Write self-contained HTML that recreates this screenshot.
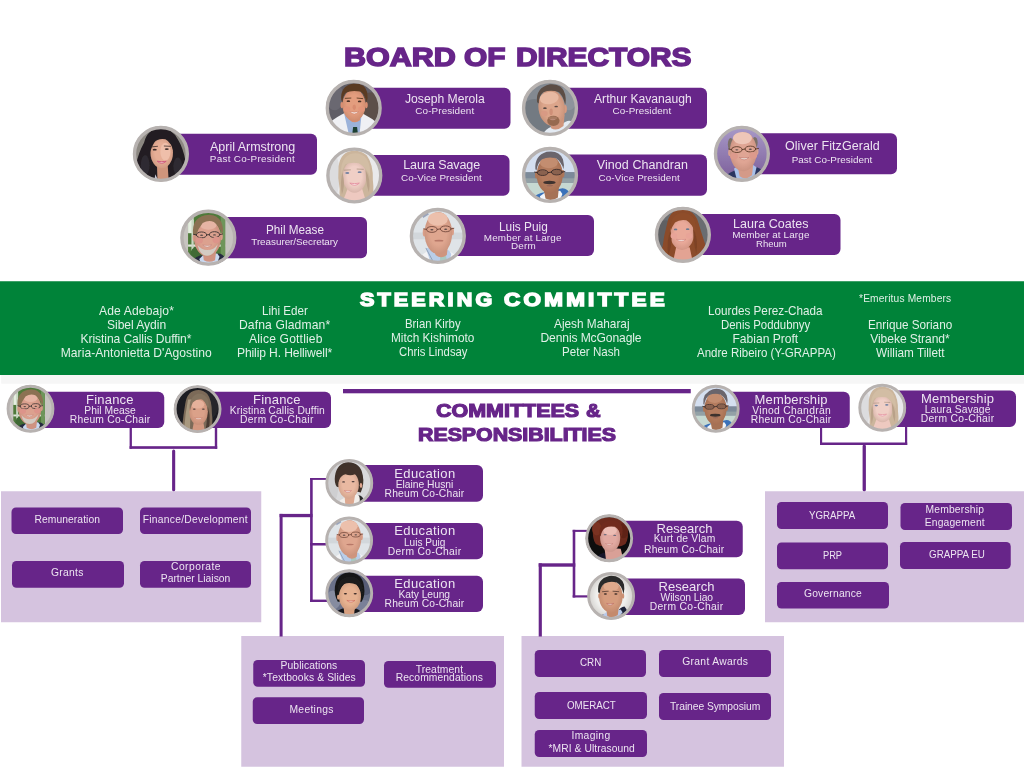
<!DOCTYPE html>
<html lang="en">
<head>
<meta charset="utf-8">
<title>GRAPPA Organizational Chart</title>
<style>
html,body{margin:0;padding:0;background:#fff;}
body{width:1024px;height:768px;position:relative;overflow:hidden;font-family:"Liberation Sans",sans-serif;}
.chart{position:absolute;left:0;top:0;width:1024px;height:768px;overflow:hidden;background:#fff;will-change:transform;}
.chart *{position:absolute;margin:0;padding:0;box-sizing:border-box;}
.shapes{left:0;top:0;}
.t{white-space:pre;line-height:1;font-weight:400;color:rgba(255,255,255,.88);transform-origin:0 0;}
.h{left:0;top:0;font-weight:700;font-size:0;}
.h span{white-space:pre;line-height:1;transform-origin:0 0;display:block;will-change:transform;}
.av{overflow:visible;}
</style>
</head>
<body>
<div class="chart">
<svg width="0" height="0" style="left:0;top:0"><filter id="soft" x="-10%" y="-10%" width="120%" height="120%"><feGaussianBlur stdDeviation="1.1"/></filter><radialGradient id="shade" cx="0.5" cy="0.48" r="0.6"><stop offset="0.5" stop-color="#5a2a18" stop-opacity="0"/><stop offset="1" stop-color="#5a2a18" stop-opacity="0.2"/></radialGradient><clipPath id="avclip"><circle cx="50" cy="50" r="49"/></clipPath></svg>
<svg class="shapes" width="1024" height="768" viewBox="0 0 1024 768" aria-hidden="true">
<rect x="0" y="281.25" width="1024" height="93.75" fill="#008339"/>
<rect x="1.2" y="375" width="1022.8" height="8.7" fill="#f6f6f6"/>
<rect x="1" y="491.25" width="260.25" height="131" fill="#d5c3df"/>
<rect x="765" y="491.25" width="259" height="131" fill="#d5c3df"/>
<rect x="241.25" y="636" width="262.75" height="130.75" fill="#d5c3df"/>
<rect x="521.5" y="636" width="262.5" height="130.75" fill="#d5c3df"/>
<rect x="129.6" y="427" width="2.3" height="21.8" fill="#672589"/>
<rect x="214.8" y="427" width="2.4" height="21.8" fill="#672589"/>
<rect x="129.6" y="446.2" width="87.6" height="2.65" fill="#672589"/>
<rect x="172.1" y="449.4" width="3.1" height="41.8" rx="1.5" fill="#672589"/>
<rect x="820" y="427" width="2.15" height="18" fill="#672589"/>
<rect x="905" y="426" width="2.2" height="19" fill="#672589"/>
<rect x="820" y="442.5" width="87.2" height="2.5" fill="#672589"/>
<rect x="862.6" y="444.6" width="3.3" height="46.6" rx="1.5" fill="#672589"/>
<rect x="310.1" y="478" width="2.6" height="124" fill="#672589"/>
<rect x="310.1" y="478" width="17.9" height="1.9" fill="#672589"/>
<rect x="310.1" y="543" width="17.9" height="2.5" fill="#672589"/>
<rect x="310.1" y="599.6" width="17.9" height="2.4" fill="#672589"/>
<rect x="279.6" y="513.9" width="32.9" height="3.3" fill="#672589"/>
<rect x="279.6" y="513.9" width="3" height="122.6" fill="#672589"/>
<rect x="572.7" y="529.85" width="2.6" height="67.65" fill="#672589"/>
<rect x="572.7" y="529.85" width="15.3" height="2.05" fill="#672589"/>
<rect x="572.7" y="595.3" width="17.3" height="2.2" fill="#672589"/>
<rect x="538.7" y="563.3" width="36.6" height="3.4" fill="#672589"/>
<rect x="538.7" y="563.3" width="3.15" height="73.2" fill="#672589"/>
<rect x="343" y="389" width="347.75" height="4.3" fill="#672589"/>
<path d="M353.7 87.75H504.5A6.0 6.0 0 0 1 510.5 93.75V122.75A6.0 6.0 0 0 1 504.5 128.75H353.7Z" fill="#672589"/>
<path d="M550 87.75H701A6.0 6.0 0 0 1 707 93.75V122.75A6.0 6.0 0 0 1 701 128.75H550Z" fill="#672589"/>
<path d="M160.9 133.75H311A6.0 6.0 0 0 1 317 139.75V168.75A6.0 6.0 0 0 1 311 174.75H160.9Z" fill="#672589"/>
<path d="M741.9 133.25H891A6.0 6.0 0 0 1 897 139.25V168.25A6.0 6.0 0 0 1 891 174.25H741.9Z" fill="#672589"/>
<path d="M354.3 155H503.5A6.0 6.0 0 0 1 509.5 161V189.75A6.0 6.0 0 0 1 503.5 195.75H354.3Z" fill="#672589"/>
<path d="M550 154.5H701A6.0 6.0 0 0 1 707 160.5V189.75A6.0 6.0 0 0 1 701 195.75H550Z" fill="#672589"/>
<path d="M208.3 217H361A6.0 6.0 0 0 1 367 223V252.25A6.0 6.0 0 0 1 361 258.25H208.3Z" fill="#672589"/>
<path d="M437.8 215H588A6.0 6.0 0 0 1 594 221V250A6.0 6.0 0 0 1 588 256H437.8Z" fill="#672589"/>
<path d="M682.9 214H834.5A6.0 6.0 0 0 1 840.5 220V249A6.0 6.0 0 0 1 834.5 255H682.9Z" fill="#672589"/>
<path d="M30.5 391.75H158.25A6.0 6.0 0 0 1 164.25 397.75V422A6.0 6.0 0 0 1 158.25 428H30.5Z" fill="#672589"/>
<path d="M197.6 391.75H325A6.0 6.0 0 0 1 331 397.75V422A6.0 6.0 0 0 1 325 428H197.6Z" fill="#672589"/>
<path d="M715.75 391.75H843.75A6.0 6.0 0 0 1 849.75 397.75V422A6.0 6.0 0 0 1 843.75 428H715.75Z" fill="#672589"/>
<path d="M882.25 390.5H1010A6.0 6.0 0 0 1 1016 396.5V421A6.0 6.0 0 0 1 1010 427H882.25Z" fill="#672589"/>
<path d="M349.3 465H477A6.0 6.0 0 0 1 483 471V495.75A6.0 6.0 0 0 1 477 501.75H349.3Z" fill="#672589"/>
<path d="M349.1 523H477A6.0 6.0 0 0 1 483 529V553.25A6.0 6.0 0 0 1 477 559.25H349.1Z" fill="#672589"/>
<path d="M349.25 575.75H477A6.0 6.0 0 0 1 483 581.75V606A6.0 6.0 0 0 1 477 612H349.25Z" fill="#672589"/>
<path d="M609.2 520.75H736.75A6.0 6.0 0 0 1 742.75 526.75V551.25A6.0 6.0 0 0 1 736.75 557.25H609.2Z" fill="#672589"/>
<path d="M611.1 578.5H739A6.0 6.0 0 0 1 745 584.5V609A6.0 6.0 0 0 1 739 615H611.1Z" fill="#672589"/>
<rect x="11.5" y="507.5" width="111.5" height="26.5" rx="4.5" fill="#672589"/>
<rect x="140" y="507.5" width="111" height="26.5" rx="4.5" fill="#672589"/>
<rect x="12" y="561" width="112" height="26.75" rx="4.5" fill="#672589"/>
<rect x="140" y="561" width="111" height="26.75" rx="4.5" fill="#672589"/>
<rect x="253.25" y="660" width="111.75" height="26.75" rx="4.5" fill="#672589"/>
<rect x="252.75" y="697.25" width="111.25" height="26.75" rx="4.5" fill="#672589"/>
<rect x="384" y="661" width="112" height="26.75" rx="4.5" fill="#672589"/>
<rect x="534.75" y="650" width="111.25" height="27" rx="4.5" fill="#672589"/>
<rect x="659" y="650" width="112" height="27" rx="4.5" fill="#672589"/>
<rect x="534.75" y="692" width="112.25" height="27" rx="4.5" fill="#672589"/>
<rect x="659" y="693" width="112" height="27" rx="4.5" fill="#672589"/>
<rect x="534.75" y="730" width="112.25" height="27" rx="4.5" fill="#672589"/>
<rect x="777" y="502" width="111" height="27" rx="4.5" fill="#672589"/>
<rect x="900.5" y="503" width="111.5" height="27" rx="4.5" fill="#672589"/>
<rect x="777" y="542.5" width="111" height="26.75" rx="4.5" fill="#672589"/>
<rect x="900" y="542" width="110.75" height="27" rx="4.5" fill="#672589"/>
<rect x="777" y="582" width="112" height="26.5" rx="4.5" fill="#672589"/>
</svg>
<svg class="av" style="left:324px;top:78px;width:59px;height:59px" viewBox="0 0 59 59" role="img" aria-label="Portrait photo"><g transform="translate(1.6 1.8) scale(0.5620 0.5620)"><g clip-path="url(#avclip)"><g filter="url(#soft)"><rect x="0" y="0" width="100" height="100" fill="#5f5d66"/><ellipse cx="82" cy="62" rx="30" ry="40" fill="#5c4f48"/><ellipse cx="16" cy="30" rx="16" ry="24" fill="#6a6871"/><path d="M4 78 Q22 64 36 58 L66 60 Q82 68 96 80 L96 100 L4 100Z" fill="#eff0f4"/><path d="M33 60 L64 62 L60 100 L42 100Z" fill="#9bb2da"/><path d="M49 84 L56 84 L58 100 L47 100Z" fill="#1f4030"/><path d="M38 55 L63 55 L61 72 Q51 80 41 70Z" fill="#d68d70"/><ellipse cx="29" cy="45" rx="2.5" ry="5.5" fill="#d98e72"/><ellipse cx="72.5" cy="45" rx="2.5" ry="5.5" fill="#d98e72"/><ellipse cx="50.5" cy="45" rx="20.5" ry="28" fill="#e39d7e"/><ellipse cx="50.5" cy="45" rx="20.5" ry="28" fill="url(#shade)"/><path d="M28 36 Q25 12 48 7 Q70 5 74 22 Q76 32 73 40 Q70 26 62 21 Q46 18 36 23 Q31 28 30 40Z" fill="#5a3b24"/><ellipse cx="40.5" cy="38" rx="3.2" ry="1.5" fill="#4a3028"/><ellipse cx="60.5" cy="38.5" rx="3.2" ry="1.5" fill="#4a3028"/><path d="M35 33L45 32.5" stroke="#5a3b24" stroke-width="1.6" fill="none" stroke-linecap="round"/><path d="M56 32.5L66 33.5" stroke="#5a3b24" stroke-width="1.6" fill="none" stroke-linecap="round"/><path d="M43 56.5 Q51 58.6 59 56.5 Q51 64.9 43 56.5Z" fill="#fbf6f2" stroke="#c77a66" stroke-width="0.9" stroke-linejoin="round"/><ellipse cx="38" cy="52" rx="6" ry="5" fill="#e2957a"/><ellipse cx="64" cy="52" rx="6" ry="5" fill="#e2957a"/><ellipse cx="51" cy="49" rx="3" ry="5" fill="#d88c70"/></g></g><circle cx="50" cy="50" r="47" fill="none" stroke="#b7b2b0" stroke-width="6"/></g></svg>
<svg class="av" style="left:520px;top:78px;width:60px;height:59px" viewBox="0 0 60 59" role="img" aria-label="Portrait photo"><g transform="translate(1.9 1.8) scale(0.5620 0.5620)"><g clip-path="url(#avclip)"><g filter="url(#soft)"><rect x="0" y="0" width="100" height="100" fill="#838991"/><ellipse cx="22" cy="70" rx="30" ry="36" fill="#737a82"/><ellipse cx="84" cy="30" rx="14" ry="24" fill="#8e949c"/><path d="M34 100 Q44 86 52 84 L70 80 Q82 70 88 74 L96 100Z" fill="#e4ebf3"/><path d="M50 70 L76 62 L74 82 Q62 92 52 86Z" fill="#cf957b"/><ellipse cx="77" cy="52" rx="3" ry="7" fill="#d79a80"/><g transform="rotate(-8 53 50)"><ellipse cx="53" cy="50" rx="23.5" ry="32.5" fill="#dca58b"/><ellipse cx="53" cy="50" rx="23.5" ry="32.5" fill="url(#shade)"/><ellipse cx="51" cy="32" rx="17" ry="11" fill="#e8b9a2"/></g><path d="M27 40 Q24 14 50 8 Q72 6 77 26 Q79 38 77 44 Q73 28 66 22 Q52 17 38 22 Q30 28 30 42Z" fill="#5c4d45"/><ellipse cx="41" cy="50.5" rx="3.2" ry="1.5" fill="#5a4a44"/><ellipse cx="61" cy="47.5" rx="3.2" ry="1.5" fill="#5a4a44"/><ellipse cx="56" cy="73" rx="11" ry="9" fill="#96694f"/><ellipse cx="55" cy="68" rx="8" ry="3" fill="#a87a62"/><ellipse cx="55" cy="70.5" rx="5" ry="1.4" fill="#b98a78"/><ellipse cx="40" cy="60" rx="6" ry="5" fill="#d89a84"/><ellipse cx="52" cy="57" rx="3" ry="6" fill="#cf9078"/></g></g><circle cx="50" cy="50" r="47" fill="none" stroke="#b7b2b0" stroke-width="6"/></g></svg>
<svg class="av" style="left:131px;top:124px;width:59px;height:59px" viewBox="0 0 59 59" role="img" aria-label="Portrait photo"><g transform="translate(1.8 1.8) scale(0.5620 0.5620)"><g clip-path="url(#avclip)"><g filter="url(#soft)"><rect x="0" y="0" width="100" height="100" fill="#8b8781"/><path d="M50 4 Q26 5 20 30 Q10 48 6 68 Q4 88 20 100 L86 100 Q98 84 94 64 Q90 40 80 24 Q70 5 50 4Z" fill="#211d21"/><ellipse cx="22" cy="70" rx="8" ry="18" fill="#2e2a30"/><ellipse cx="80" cy="72" rx="8" ry="16" fill="#2e2a30"/><path d="M43 68 L62 68 L64 100 L44 100Z" fill="#cf957c"/><ellipse cx="51.5" cy="48" rx="20" ry="27.5" fill="#e6ae96"/><ellipse cx="51.5" cy="48" rx="20" ry="27.5" fill="url(#shade)"/><ellipse cx="58" cy="46" rx="9" ry="16" fill="#efbfaa"/><path d="M31 46 Q28 20 46 14 Q62 10 72 24 Q76 36 73 50 Q70 30 58 24 Q44 22 38 30 Q33 38 31 46Z" fill="#221e22"/><ellipse cx="39" cy="42.5" rx="3.6" ry="1.6" fill="#3a2a28"/><ellipse cx="60.5" cy="41.5" rx="3.6" ry="1.6" fill="#3a2a28"/><path d="M33 37.5L44 36.5" stroke="#3a2a28" stroke-width="1.4" fill="none" stroke-linecap="round"/><path d="M56 36L67 36.5" stroke="#3a2a28" stroke-width="1.4" fill="none" stroke-linecap="round"/><path d="M43.5 63 Q51.5 64.82 59.5 63 Q51.5 70.28 43.5 63Z" fill="#f6dada" stroke="#cc5578" stroke-width="1.6" stroke-linejoin="round"/><path d="M40 86 Q44 96 48 100 L38 100Z" fill="#c8c8d8"/></g></g><circle cx="50" cy="50" r="47" fill="none" stroke="#b7b2b0" stroke-width="6"/></g></svg>
<svg class="av" style="left:712px;top:124px;width:59px;height:59px" viewBox="0 0 59 59" role="img" aria-label="Portrait photo"><g transform="translate(1.8 1.7) scale(0.5620 0.5620)"><g clip-path="url(#avclip)"><g filter="url(#soft)"><linearGradient id="fgbga4" x1="0" y1="0" x2="0" y2="1"><stop offset="0" stop-color="#a99bc9"/><stop offset="1" stop-color="#7a5c98"/></linearGradient><rect x="0" y="0" width="100" height="100" fill="url(#fgbga4)"/><path d="M14 100 Q20 86 36 80 L70 74 Q82 72 90 84 L92 100Z" fill="#2b3661"/><path d="M36 76 L44 72 L70 70 L76 74 L70 100 L42 100Z" fill="#a9c1e9"/><path d="M42 70 L70 70 L68 88 Q56 98 46 90Z" fill="#d49a88"/><ellipse cx="28.5" cy="48" rx="3" ry="6" fill="#d9a090"/><ellipse cx="76.5" cy="46" rx="3" ry="6" fill="#d9a090"/><ellipse cx="30" cy="33" rx="5" ry="11" fill="#7b7068"/><ellipse cx="73" cy="30" rx="5" ry="10" fill="#7b7068"/><ellipse cx="52.5" cy="46" rx="24" ry="35" fill="#dfa594"/><ellipse cx="52.5" cy="46" rx="24" ry="35" fill="url(#shade)"/><ellipse cx="51" cy="22" rx="17" ry="11" fill="#eec6b8"/><ellipse cx="41" cy="42.5" rx="9.5" ry="5.2" fill="none" stroke="#5a3a28" stroke-width="1.6"/><ellipse cx="65" cy="41.5" rx="9.5" ry="5.2" fill="none" stroke="#5a3a28" stroke-width="1.6"/><path d="M50.5 42.5L55.5 41.5" stroke="#5a3a28" stroke-width="1.6" fill="none" stroke-linecap="round"/><path d="M31.5 42.5L26.5 41.5" stroke="#5a3a28" stroke-width="1.6" fill="none" stroke-linecap="round"/><path d="M74.5 41.5L79.5 40.5" stroke="#5a3a28" stroke-width="1.6" fill="none" stroke-linecap="round"/><ellipse cx="41" cy="43" rx="2.8" ry="1.3" fill="#5a4a48"/><ellipse cx="65" cy="42" rx="2.8" ry="1.3" fill="#5a4a48"/><path d="M45.5 56.5 Q54 58.6 62.5 56.5 Q54 64.9 45.5 56.5Z" fill="#f1e9e1" stroke="#b8706a" stroke-width="0.9" stroke-linejoin="round"/><ellipse cx="36" cy="54" rx="7" ry="6" fill="#dd9a8c"/><ellipse cx="70" cy="53" rx="7" ry="6" fill="#dd9a8c"/></g></g><circle cx="50" cy="50" r="47" fill="none" stroke="#b7b2b0" stroke-width="6"/></g></svg>
<svg class="av" style="left:325px;top:146px;width:59px;height:59px" viewBox="0 0 59 59" role="img" aria-label="Portrait photo"><g transform="translate(1.2 1.4) scale(0.5620 0.5620)"><g clip-path="url(#avclip)"><g filter="url(#soft)"><rect x="0" y="0" width="100" height="100" fill="#e9e9eb"/><ellipse cx="12" cy="50" rx="12" ry="40" fill="#dcdcde"/><path d="M50 6 Q26 6 22 34 Q20 54 24 74 Q22 90 30 100 L80 100 Q86 80 83 58 Q84 30 72 14 Q62 6 50 6Z" fill="#cbb59c"/><path d="M38 74 L64 74 L72 100 L28 100Z" fill="#eec9c0"/><ellipse cx="50.5" cy="52" rx="21" ry="28.5" fill="#f0cfc6"/><ellipse cx="50.5" cy="52" rx="21" ry="28.5" fill="url(#shade)"/><path d="M27 48 Q24 22 42 12 Q60 6 72 20 Q80 34 78 52 Q72 36 58 28 Q44 26 34 30 Q29 38 27 48Z" fill="#d2bda4"/><path d="M70 40 Q80 56 76 80 Q72 70 71 56Z" fill="#b9a189"/><path d="M29 44 Q24 62 28 84 Q33 70 31 56Z" fill="#b9a189"/><ellipse cx="37.5" cy="45.5" rx="3.6" ry="1.7" fill="#7482a2"/><ellipse cx="59.5" cy="44" rx="3.6" ry="1.7" fill="#7482a2"/><path d="M32 40.5L43 40" stroke="#a08a74" stroke-width="1.2" fill="none" stroke-linecap="round"/><path d="M55 38.5L66 39" stroke="#a08a74" stroke-width="1.2" fill="none" stroke-linecap="round"/><path d="M42.0 63.5 Q50.5 65.46 59.0 63.5 Q50.5 71.34 42.0 63.5Z" fill="#fbeeee" stroke="#e38d9c" stroke-width="1.5" stroke-linejoin="round"/></g></g><circle cx="50" cy="50" r="47" fill="none" stroke="#b7b2b0" stroke-width="6"/></g></svg>
<svg class="av" style="left:520px;top:145px;width:60px;height:59px" viewBox="0 0 60 59" role="img" aria-label="Portrait photo"><g transform="translate(1.9 1.8) scale(0.5620 0.5620)"><g clip-path="url(#avclip)"><g filter="url(#soft)"><rect x="0" y="0" width="100" height="46" fill="#d4dff0"/><rect x="0" y="45" width="100" height="20" fill="#7c8a99"/><rect x="0" y="64" width="100" height="36" fill="#c6d9d2"/><rect x="0" y="56" width="100" height="8" fill="#93a1a6"/><path d="M14 100 Q20 86 34 82 L70 74 Q80 72 88 86 L92 100Z" fill="#3b71b9"/><path d="M32 88 L40 82 L68 78 L72 84 L66 100 L36 100Z" fill="#f3f5f8"/><path d="M38 72 L66 70 L64 90 Q52 98 42 92Z" fill="#a67254"/><ellipse cx="26" cy="50" rx="2.8" ry="6.5" fill="#ae785a"/><ellipse cx="73" cy="48" rx="2.8" ry="6.5" fill="#ae785a"/><ellipse cx="49.5" cy="50" rx="23" ry="33" fill="#b47c5e"/><ellipse cx="49.5" cy="50" rx="23" ry="33" fill="url(#shade)"/><ellipse cx="48" cy="28" rx="16" ry="10" fill="#c38d70"/><path d="M24 40 Q22 16 44 9 Q66 5 73 22 Q76 32 74 40 Q70 26 60 20 Q46 17 36 22 Q28 28 26 42Z" fill="#6a656c"/><ellipse cx="37" cy="46" rx="8.5" ry="4" fill="#8a6250"/><ellipse cx="62" cy="45" rx="8.5" ry="4" fill="#8a6250"/><ellipse cx="37" cy="46" rx="9.5" ry="5" fill="none" stroke="#2e2426" stroke-width="1.5"/><ellipse cx="62" cy="45" rx="9.5" ry="5" fill="none" stroke="#2e2426" stroke-width="1.5"/><path d="M46.5 46L52.5 45" stroke="#2e2426" stroke-width="1.5" fill="none" stroke-linecap="round"/><path d="M27.5 46L22.5 45" stroke="#2e2426" stroke-width="1.5" fill="none" stroke-linecap="round"/><path d="M71.5 45L76.5 44" stroke="#2e2426" stroke-width="1.5" fill="none" stroke-linecap="round"/><ellipse cx="49" cy="63.5" rx="11" ry="3" fill="#3e302e"/><ellipse cx="49.5" cy="69" rx="6" ry="1.5" fill="#9a6a58"/></g></g><circle cx="50" cy="50" r="47" fill="none" stroke="#b7b2b0" stroke-width="6"/></g></svg>
<svg class="av" style="left:179px;top:208px;width:59px;height:59px" viewBox="0 0 59 59" role="img" aria-label="Portrait photo"><g transform="translate(1.2 1.6) scale(0.5620 0.5620)"><g clip-path="url(#avclip)"><g filter="url(#soft)"><rect x="0" y="0" width="100" height="100" fill="#c7c4c0"/><rect x="14" y="0" width="66" height="100" fill="#4f7a3b"/><rect x="14" y="18" width="10" height="24" fill="#e6eee0"/><rect x="14" y="62" width="66" height="4" fill="#dfe6da"/><rect x="20" y="0" width="4" height="100" fill="#c9d6c2"/><rect x="72" y="0" width="8" height="100" fill="#6e955a"/><ellipse cx="30" cy="80" rx="12" ry="14" fill="#3f6a34"/><path d="M16 100 Q22 86 34 82 L68 78 Q78 78 82 92 L82 100Z" fill="#262b41"/><path d="M34 88 L42 80 L66 78 L70 84 L64 100 L38 100Z" fill="#c9d9f1"/><path d="M40 74 L64 74 L62 90 Q52 96 42 90Z" fill="#cf9382"/><ellipse cx="25" cy="50" rx="2.8" ry="6.5" fill="#d79a88"/><ellipse cx="73" cy="48" rx="2.8" ry="6.5" fill="#d79a88"/><ellipse cx="48.5" cy="50" rx="24" ry="33.5" fill="#dca18f"/><ellipse cx="48.5" cy="50" rx="24" ry="33.5" fill="url(#shade)"/><ellipse cx="50" cy="27" rx="15" ry="9" fill="#e6b4a4"/><path d="M31 63 Q35 82 48 82 Q61 82 67 61 Q60 72 48 72 Q38 72 31 63Z" fill="#d3cbc3"/><path d="M23 44 Q20 16 44 10 Q64 6 73 22 Q78 34 75 44 Q70 30 60 22 Q50 18 40 24 Q32 34 28 46Z" fill="#8b7152"/><ellipse cx="38" cy="45" rx="9.2" ry="5.2" fill="none" stroke="#3a3030" stroke-width="1.6"/><ellipse cx="61" cy="44.5" rx="9.2" ry="5.2" fill="none" stroke="#3a3030" stroke-width="1.6"/><path d="M47.2 45L51.8 44.5" stroke="#3a3030" stroke-width="1.6" fill="none" stroke-linecap="round"/><path d="M28.8 45L23.8 44" stroke="#3a3030" stroke-width="1.6" fill="none" stroke-linecap="round"/><path d="M70.2 44.5L75.2 43.5" stroke="#3a3030" stroke-width="1.6" fill="none" stroke-linecap="round"/><ellipse cx="38" cy="45.5" rx="2.8" ry="1.3" fill="#5a4a48"/><ellipse cx="61" cy="45" rx="2.8" ry="1.3" fill="#5a4a48"/><path d="M40 63 Q48 64.82 56 63 Q48 70.28 40 63Z" fill="#f4ece6" stroke="#c0807a" stroke-width="0.9" stroke-linejoin="round"/><ellipse cx="34" cy="55" rx="6.5" ry="5.5" fill="#dc948a"/><ellipse cx="64" cy="54" rx="6.5" ry="5.5" fill="#dc948a"/></g></g><circle cx="50" cy="50" r="47" fill="none" stroke="#b7b2b0" stroke-width="6"/></g></svg>
<svg class="av" style="left:408px;top:206px;width:59px;height:59px" viewBox="0 0 59 59" role="img" aria-label="Portrait photo"><g transform="translate(1.7 1.8) scale(0.5620 0.5620)"><g clip-path="url(#avclip)"><g filter="url(#soft)"><rect x="0" y="0" width="100" height="100" fill="#dfe4e8"/><rect x="0" y="44" width="100" height="12" fill="#d2d7db"/><path d="M22 14 L32 8 L34 12 L24 18Z" fill="#9aa4bc"/><path d="M10 100 Q18 84 30 78 L72 78 Q86 84 92 100Z" fill="#f3f3f5"/><path d="M29 72 L44 70 L70 76 L74 82 L70 100 L38 100Z" fill="#b9cde9"/><path d="M54 86 L64 84 L68 100 L54 100Z" fill="#a9c9c1"/><path d="M29 72L44 100" stroke="#7a8aa0" stroke-width="1.2" fill="none" stroke-linecap="round"/><path d="M42 68 L68 68 L66 84 Q56 92 46 84Z" fill="#cf957e"/><ellipse cx="26" cy="44" rx="2.8" ry="7" fill="#d99e88"/><ellipse cx="76" cy="42" rx="2.8" ry="7" fill="#d99e88"/><ellipse cx="51" cy="45" rx="24.5" ry="37.5" fill="#dfa68f"/><ellipse cx="51" cy="45" rx="24.5" ry="37.5" fill="url(#shade)"/><ellipse cx="50" cy="20" rx="18" ry="12" fill="#ecc0ac"/><ellipse cx="39.5" cy="38.5" rx="9.5" ry="5.2" fill="none" stroke="#6a4034" stroke-width="1.5"/><ellipse cx="64" cy="37.5" rx="9.5" ry="5.2" fill="none" stroke="#6a4034" stroke-width="1.5"/><path d="M49.0 38.5L54.5 37.5" stroke="#6a4034" stroke-width="1.5" fill="none" stroke-linecap="round"/><path d="M30.0 38.5L25.0 37.5" stroke="#6a4034" stroke-width="1.5" fill="none" stroke-linecap="round"/><path d="M73.5 37.5L78.5 36.5" stroke="#6a4034" stroke-width="1.5" fill="none" stroke-linecap="round"/><ellipse cx="39.5" cy="39" rx="2.8" ry="1.3" fill="#5a4a48"/><ellipse cx="64" cy="38" rx="2.8" ry="1.3" fill="#5a4a48"/><ellipse cx="52" cy="58.5" rx="8" ry="1.6" fill="#b87868"/></g></g><circle cx="50" cy="50" r="47" fill="none" stroke="#b7b2b0" stroke-width="6"/></g></svg>
<svg class="av" style="left:653px;top:205px;width:59px;height:59px" viewBox="0 0 59 59" role="img" aria-label="Portrait photo"><g transform="translate(1.8 1.7) scale(0.5620 0.5620)"><g clip-path="url(#avclip)"><g filter="url(#soft)"><rect x="0" y="0" width="100" height="100" fill="#6b6d71"/><ellipse cx="20" cy="60" rx="20" ry="36" fill="#5e6064"/><path d="M48 4 Q26 6 22 30 Q16 52 14 70 Q8 86 22 100 L84 100 Q96 86 90 68 Q84 50 78 30 Q72 6 48 4Z" fill="#8b4b29"/><path d="M38 72 L62 72 L68 100 L32 100Z" fill="#e3a393"/><ellipse cx="48.5" cy="47.5" rx="21" ry="29.5" fill="#e9a999"/><ellipse cx="48.5" cy="47.5" rx="21" ry="29.5" fill="url(#shade)"/><path d="M28 44 Q26 18 44 12 Q60 8 70 22 Q74 34 72 50 Q68 30 56 24 Q44 22 36 28 Q30 36 28 44Z" fill="#8f4e2b"/><path d="M68 38 Q78 56 74 84 Q70 70 69 54Z" fill="#7d4325"/><path d="M28 42 Q20 62 24 88 Q30 72 30 56Z" fill="#7d4325"/><ellipse cx="37" cy="40.5" rx="3.2" ry="1.5" fill="#6a7a92"/><ellipse cx="58.5" cy="40" rx="3.2" ry="1.5" fill="#6a7a92"/><path d="M38.5 58 Q47 59.96 55.5 58 Q47 65.84 38.5 58Z" fill="#f6ece6" stroke="#cc7a74" stroke-width="0.9" stroke-linejoin="round"/><ellipse cx="34" cy="52" rx="6" ry="5" fill="#e8a498"/><ellipse cx="61" cy="52" rx="6" ry="5" fill="#e8a498"/></g></g><circle cx="50" cy="50" r="47" fill="none" stroke="#b7b2b0" stroke-width="6"/></g></svg>
<svg class="av" style="left:5px;top:383px;width:51px;height:51px" viewBox="0 0 51 51" role="img" aria-label="Portrait photo"><g transform="translate(1.6 1.85) scale(0.4780 0.4780)"><g clip-path="url(#avclip)"><g filter="url(#soft)"><rect x="0" y="0" width="100" height="100" fill="#c7c4c0"/><rect x="14" y="0" width="66" height="100" fill="#4f7a3b"/><rect x="14" y="18" width="10" height="24" fill="#e6eee0"/><rect x="14" y="62" width="66" height="4" fill="#dfe6da"/><rect x="20" y="0" width="4" height="100" fill="#c9d6c2"/><rect x="72" y="0" width="8" height="100" fill="#6e955a"/><ellipse cx="30" cy="80" rx="12" ry="14" fill="#3f6a34"/><path d="M16 100 Q22 86 34 82 L68 78 Q78 78 82 92 L82 100Z" fill="#262b41"/><path d="M34 88 L42 80 L66 78 L70 84 L64 100 L38 100Z" fill="#c9d9f1"/><path d="M40 74 L64 74 L62 90 Q52 96 42 90Z" fill="#cf9382"/><ellipse cx="25" cy="50" rx="2.8" ry="6.5" fill="#d79a88"/><ellipse cx="73" cy="48" rx="2.8" ry="6.5" fill="#d79a88"/><ellipse cx="48.5" cy="50" rx="24" ry="33.5" fill="#dca18f"/><ellipse cx="48.5" cy="50" rx="24" ry="33.5" fill="url(#shade)"/><ellipse cx="50" cy="27" rx="15" ry="9" fill="#e6b4a4"/><path d="M31 63 Q35 82 48 82 Q61 82 67 61 Q60 72 48 72 Q38 72 31 63Z" fill="#d3cbc3"/><path d="M23 44 Q20 16 44 10 Q64 6 73 22 Q78 34 75 44 Q70 30 60 22 Q50 18 40 24 Q32 34 28 46Z" fill="#8b7152"/><ellipse cx="38" cy="45" rx="9.2" ry="5.2" fill="none" stroke="#3a3030" stroke-width="1.6"/><ellipse cx="61" cy="44.5" rx="9.2" ry="5.2" fill="none" stroke="#3a3030" stroke-width="1.6"/><path d="M47.2 45L51.8 44.5" stroke="#3a3030" stroke-width="1.6" fill="none" stroke-linecap="round"/><path d="M28.8 45L23.8 44" stroke="#3a3030" stroke-width="1.6" fill="none" stroke-linecap="round"/><path d="M70.2 44.5L75.2 43.5" stroke="#3a3030" stroke-width="1.6" fill="none" stroke-linecap="round"/><ellipse cx="38" cy="45.5" rx="2.8" ry="1.3" fill="#5a4a48"/><ellipse cx="61" cy="45" rx="2.8" ry="1.3" fill="#5a4a48"/><path d="M40 63 Q48 64.82 56 63 Q48 70.28 40 63Z" fill="#f4ece6" stroke="#c0807a" stroke-width="0.9" stroke-linejoin="round"/><ellipse cx="34" cy="55" rx="6.5" ry="5.5" fill="#dc948a"/><ellipse cx="64" cy="54" rx="6.5" ry="5.5" fill="#dc948a"/></g></g><circle cx="50" cy="50" r="47" fill="none" stroke="#b7b2b0" stroke-width="6"/></g></svg>
<svg class="av" style="left:172px;top:384px;width:51px;height:50px" viewBox="0 0 51 50" role="img" aria-label="Portrait photo"><g transform="translate(1.7 1.2) scale(0.4780 0.4780)"><g clip-path="url(#avclip)"><g filter="url(#soft)"><rect x="0" y="0" width="100" height="100" fill="#1d1d21"/><ellipse cx="74" cy="40" rx="20" ry="30" fill="#26272b"/><path d="M52 10 Q28 10 24 40 Q20 64 18 84 Q20 96 30 100 L74 100 Q84 84 80 60 Q80 30 70 18 Q62 10 52 10Z" fill="#7b6b59"/><path d="M30 30 Q24 60 22 90 L34 98 Q34 60 40 30Z" fill="#a8987f"/><path d="M70 40 Q78 60 74 90 L66 96 Q72 70 68 50Z" fill="#4a3a30"/><path d="M42 78 L62 78 L66 100 L38 100Z" fill="#d39880"/><ellipse cx="52" cy="55" rx="19.5" ry="28" fill="#dba189"/><ellipse cx="52" cy="55" rx="19.5" ry="28" fill="url(#shade)"/><ellipse cx="50" cy="40" rx="14" ry="9" fill="#e6b19b"/><path d="M34 54 Q30 26 50 18 Q64 16 72 30 Q75 42 72 56 Q70 38 60 30 Q48 28 40 36 Q36 44 34 54Z" fill="#84735f"/><ellipse cx="43" cy="50" rx="3.2" ry="1.5" fill="#4a3a38"/><ellipse cx="62" cy="50" rx="3.2" ry="1.5" fill="#4a3a38"/><path d="M44 68 Q52 69.96 60 68 Q52 75.84 44 68Z" fill="#f6eee8" stroke="#c87868" stroke-width="1.1" stroke-linejoin="round"/></g></g><circle cx="50" cy="50" r="47" fill="none" stroke="#b7b2b0" stroke-width="6"/></g></svg>
<svg class="av" style="left:690px;top:383px;width:51px;height:51px" viewBox="0 0 51 51" role="img" aria-label="Portrait photo"><g transform="translate(1.85 1.85) scale(0.4780 0.4780)"><g clip-path="url(#avclip)"><g filter="url(#soft)"><rect x="0" y="0" width="100" height="46" fill="#d4dff0"/><rect x="0" y="45" width="100" height="20" fill="#7c8a99"/><rect x="0" y="64" width="100" height="36" fill="#c6d9d2"/><rect x="0" y="56" width="100" height="8" fill="#93a1a6"/><path d="M14 100 Q20 86 34 82 L70 74 Q80 72 88 86 L92 100Z" fill="#3b71b9"/><path d="M32 88 L40 82 L68 78 L72 84 L66 100 L36 100Z" fill="#f3f5f8"/><path d="M38 72 L66 70 L64 90 Q52 98 42 92Z" fill="#a67254"/><ellipse cx="26" cy="50" rx="2.8" ry="6.5" fill="#ae785a"/><ellipse cx="73" cy="48" rx="2.8" ry="6.5" fill="#ae785a"/><ellipse cx="49.5" cy="50" rx="23" ry="33" fill="#b47c5e"/><ellipse cx="49.5" cy="50" rx="23" ry="33" fill="url(#shade)"/><ellipse cx="48" cy="28" rx="16" ry="10" fill="#c38d70"/><path d="M24 40 Q22 16 44 9 Q66 5 73 22 Q76 32 74 40 Q70 26 60 20 Q46 17 36 22 Q28 28 26 42Z" fill="#6a656c"/><ellipse cx="37" cy="46" rx="8.5" ry="4" fill="#8a6250"/><ellipse cx="62" cy="45" rx="8.5" ry="4" fill="#8a6250"/><ellipse cx="37" cy="46" rx="9.5" ry="5" fill="none" stroke="#2e2426" stroke-width="1.5"/><ellipse cx="62" cy="45" rx="9.5" ry="5" fill="none" stroke="#2e2426" stroke-width="1.5"/><path d="M46.5 46L52.5 45" stroke="#2e2426" stroke-width="1.5" fill="none" stroke-linecap="round"/><path d="M27.5 46L22.5 45" stroke="#2e2426" stroke-width="1.5" fill="none" stroke-linecap="round"/><path d="M71.5 45L76.5 44" stroke="#2e2426" stroke-width="1.5" fill="none" stroke-linecap="round"/><ellipse cx="49" cy="63.5" rx="11" ry="3" fill="#3e302e"/><ellipse cx="49.5" cy="69" rx="6" ry="1.5" fill="#9a6a58"/></g></g><circle cx="50" cy="50" r="47" fill="none" stroke="#b7b2b0" stroke-width="6"/></g></svg>
<svg class="av" style="left:857px;top:382px;width:51px;height:51px" viewBox="0 0 51 51" role="img" aria-label="Portrait photo"><g transform="translate(1.35 1.85) scale(0.4780 0.4780)"><g clip-path="url(#avclip)"><g filter="url(#soft)"><rect x="0" y="0" width="100" height="100" fill="#e9e9eb"/><ellipse cx="12" cy="50" rx="12" ry="40" fill="#dcdcde"/><path d="M50 6 Q26 6 22 34 Q20 54 24 74 Q22 90 30 100 L80 100 Q86 80 83 58 Q84 30 72 14 Q62 6 50 6Z" fill="#cbb59c"/><path d="M38 74 L64 74 L72 100 L28 100Z" fill="#eec9c0"/><ellipse cx="50.5" cy="52" rx="21" ry="28.5" fill="#f0cfc6"/><ellipse cx="50.5" cy="52" rx="21" ry="28.5" fill="url(#shade)"/><path d="M27 48 Q24 22 42 12 Q60 6 72 20 Q80 34 78 52 Q72 36 58 28 Q44 26 34 30 Q29 38 27 48Z" fill="#d2bda4"/><path d="M70 40 Q80 56 76 80 Q72 70 71 56Z" fill="#b9a189"/><path d="M29 44 Q24 62 28 84 Q33 70 31 56Z" fill="#b9a189"/><ellipse cx="37.5" cy="45.5" rx="3.6" ry="1.7" fill="#7482a2"/><ellipse cx="59.5" cy="44" rx="3.6" ry="1.7" fill="#7482a2"/><path d="M32 40.5L43 40" stroke="#a08a74" stroke-width="1.2" fill="none" stroke-linecap="round"/><path d="M55 38.5L66 39" stroke="#a08a74" stroke-width="1.2" fill="none" stroke-linecap="round"/><path d="M42.0 63.5 Q50.5 65.46 59.0 63.5 Q50.5 71.34 42.0 63.5Z" fill="#fbeeee" stroke="#e38d9c" stroke-width="1.5" stroke-linejoin="round"/></g></g><circle cx="50" cy="50" r="47" fill="none" stroke="#b7b2b0" stroke-width="6"/></g></svg>
<svg class="av" style="left:324px;top:458px;width:51px;height:50px" viewBox="0 0 51 50" role="img" aria-label="Portrait photo"><g transform="translate(1.4 1) scale(0.4780 0.4780)"><g clip-path="url(#avclip)"><g filter="url(#soft)"><rect x="0" y="0" width="100" height="100" fill="#d9d9db"/><ellipse cx="14" cy="50" rx="14" ry="40" fill="#cfcfd1"/><path d="M22 100 Q28 88 40 84 L70 76 Q78 76 82 90 L84 100Z" fill="#2a2a2c"/><path d="M26 92 Q32 84 42 80 L66 74 Q72 76 72 86 L70 100 L28 100Z" fill="#f2eeea"/><path d="M40 76 L62 76 L58 100 L42 100Z" fill="#dca890"/><path d="M48 7 Q24 8 20 36 Q18 50 24 58 L74 70 Q82 52 78 34 Q74 8 48 7Z" fill="#3f3129"/><ellipse cx="74.5" cy="55" rx="2.6" ry="5.5" fill="#dda48e"/><ellipse cx="48.5" cy="54" rx="21.5" ry="29" fill="#e9b9a1"/><ellipse cx="48.5" cy="54" rx="21.5" ry="29" fill="url(#shade)"/><path d="M25 52 Q20 22 44 14 Q66 8 76 30 Q80 42 76 52 Q72 36 62 32 Q52 36 42 32 Q32 34 28 46Z" fill="#42332b"/><ellipse cx="38" cy="48" rx="3.2" ry="1.4" fill="#4a3a38"/><ellipse cx="58" cy="47.5" rx="3.2" ry="1.4" fill="#4a3a38"/><path d="M39.5 66 Q47 68.1 54.5 66 Q47 74.4 39.5 66Z" fill="#f7f1ee" stroke="#d07a78" stroke-width="1.2" stroke-linejoin="round"/></g></g><circle cx="50" cy="50" r="47" fill="none" stroke="#b7b2b0" stroke-width="6"/></g></svg>
<svg class="av" style="left:324px;top:515px;width:50px;height:51px" viewBox="0 0 50 51" role="img" aria-label="Portrait photo"><g transform="translate(1.2 1.6) scale(0.4780 0.4780)"><g clip-path="url(#avclip)"><g filter="url(#soft)"><rect x="0" y="0" width="100" height="100" fill="#dfe4e8"/><rect x="0" y="44" width="100" height="12" fill="#d2d7db"/><path d="M22 14 L32 8 L34 12 L24 18Z" fill="#9aa4bc"/><path d="M10 100 Q18 84 30 78 L72 78 Q86 84 92 100Z" fill="#f3f3f5"/><path d="M29 72 L44 70 L70 76 L74 82 L70 100 L38 100Z" fill="#b9cde9"/><path d="M54 86 L64 84 L68 100 L54 100Z" fill="#a9c9c1"/><path d="M29 72L44 100" stroke="#7a8aa0" stroke-width="1.2" fill="none" stroke-linecap="round"/><path d="M42 68 L68 68 L66 84 Q56 92 46 84Z" fill="#cf957e"/><ellipse cx="26" cy="44" rx="2.8" ry="7" fill="#d99e88"/><ellipse cx="76" cy="42" rx="2.8" ry="7" fill="#d99e88"/><ellipse cx="51" cy="45" rx="24.5" ry="37.5" fill="#dfa68f"/><ellipse cx="51" cy="45" rx="24.5" ry="37.5" fill="url(#shade)"/><ellipse cx="50" cy="20" rx="18" ry="12" fill="#ecc0ac"/><ellipse cx="39.5" cy="38.5" rx="9.5" ry="5.2" fill="none" stroke="#6a4034" stroke-width="1.5"/><ellipse cx="64" cy="37.5" rx="9.5" ry="5.2" fill="none" stroke="#6a4034" stroke-width="1.5"/><path d="M49.0 38.5L54.5 37.5" stroke="#6a4034" stroke-width="1.5" fill="none" stroke-linecap="round"/><path d="M30.0 38.5L25.0 37.5" stroke="#6a4034" stroke-width="1.5" fill="none" stroke-linecap="round"/><path d="M73.5 37.5L78.5 36.5" stroke="#6a4034" stroke-width="1.5" fill="none" stroke-linecap="round"/><ellipse cx="39.5" cy="39" rx="2.8" ry="1.3" fill="#5a4a48"/><ellipse cx="64" cy="38" rx="2.8" ry="1.3" fill="#5a4a48"/><ellipse cx="52" cy="58.5" rx="8" ry="1.6" fill="#b87868"/></g></g><circle cx="50" cy="50" r="47" fill="none" stroke="#b7b2b0" stroke-width="6"/></g></svg>
<svg class="av" style="left:324px;top:568px;width:51px;height:51px" viewBox="0 0 51 51" role="img" aria-label="Portrait photo"><g transform="translate(1.35 1.35) scale(0.4780 0.4780)"><g clip-path="url(#avclip)"><g filter="url(#soft)"><rect x="0" y="0" width="100" height="100" fill="#6b7189"/><ellipse cx="16" cy="64" rx="16" ry="20" fill="#868ca0"/><ellipse cx="84" cy="30" rx="16" ry="24" fill="#565c74"/><ellipse cx="80" cy="80" rx="20" ry="16" fill="#7a8098"/><path d="M16 100 Q22 86 36 82 L64 82 Q76 86 82 100Z" fill="#19191b"/><path d="M38 76 L62 76 L60 96 Q50 102 40 96Z" fill="#d8a080"/><path d="M50 6 Q24 8 20 36 Q18 54 26 68 L76 68 Q84 54 81 36 Q78 8 50 6Z" fill="#191919"/><ellipse cx="27" cy="58" rx="2.6" ry="5.5" fill="#d8a080"/><ellipse cx="51.5" cy="56.5" rx="23" ry="30" fill="#e6b291"/><ellipse cx="51.5" cy="56.5" rx="23" ry="30" fill="url(#shade)"/><path d="M26 54 Q22 22 46 16 Q70 12 78 34 Q80 46 77 56 Q74 40 66 32 Q52 26 40 30 Q30 38 28 50Z" fill="#1b1b1b"/><ellipse cx="42" cy="51" rx="3.4" ry="1.5" fill="#3a2a28"/><ellipse cx="62.5" cy="51" rx="3.4" ry="1.5" fill="#3a2a28"/><path d="M45.0 65 Q53.5 66.82 62.0 65 Q53.5 72.28 45.0 65Z" fill="#f4e4dc" stroke="#d06a5a" stroke-width="1.4" stroke-linejoin="round"/></g></g><circle cx="50" cy="50" r="47" fill="none" stroke="#b7b2b0" stroke-width="6"/></g></svg>
<svg class="av" style="left:584px;top:513px;width:51px;height:51px" viewBox="0 0 51 51" role="img" aria-label="Portrait photo"><g transform="translate(1.3 1.35) scale(0.4780 0.4780)"><g clip-path="url(#avclip)"><g filter="url(#soft)"><rect x="0" y="0" width="100" height="100" fill="#0d0d0f"/><path d="M18 100 Q24 84 40 80 L50 100Z" fill="#15172a"/><path d="M50 6 Q22 6 16 30 Q14 50 22 62 Q36 70 50 64 Q70 72 84 62 Q92 48 88 30 Q80 6 50 6Z" fill="#6c2a1c"/><ellipse cx="24" cy="30" rx="10" ry="14" fill="#7a3220"/><ellipse cx="80" cy="34" rx="10" ry="16" fill="#5e2418"/><path d="M40 70 L74 72 L78 88 Q66 100 44 100Z" fill="#d9a097"/><ellipse cx="52" cy="48.5" rx="21" ry="30" fill="#e1a9a1"/><ellipse cx="52" cy="48.5" rx="21" ry="30" fill="url(#shade)"/><ellipse cx="52" cy="34" rx="14" ry="9" fill="#ecbdb4"/><path d="M30 44 Q28 18 48 14 Q66 10 76 24 Q80 36 76 48 Q72 32 62 26 Q50 24 42 28 Q34 34 32 46Z" fill="#702c1d"/><ellipse cx="41.5" cy="42.5" rx="3.2" ry="1.4" fill="#6a6a7a"/><ellipse cx="61.5" cy="44" rx="3.2" ry="1.4" fill="#6a6a7a"/><path d="M42 61 Q50 62.82 58 61 Q50 68.28 42 61Z" fill="#f4e2de" stroke="#c88078" stroke-width="1.1" stroke-linejoin="round"/></g></g><circle cx="50" cy="50" r="47" fill="none" stroke="#b7b2b0" stroke-width="6"/></g></svg>
<svg class="av" style="left:586px;top:571px;width:50px;height:50px" viewBox="0 0 50 50" role="img" aria-label="Portrait photo"><g transform="translate(1.2 1.1) scale(0.4780 0.4780)"><g clip-path="url(#avclip)"><g filter="url(#soft)"><radialGradient id="lbga18" cx="0.5" cy="0.5" r="0.55"><stop offset="0.55" stop-color="#f0f0ee"/><stop offset="1" stop-color="#c7c3bf"/></radialGradient><rect x="0" y="0" width="100" height="100" fill="url(#lbga18)"/><path d="M60 86 Q70 72 78 72 Q86 80 84 98 L58 100Z" fill="#1f2339"/><path d="M24 100 Q28 90 34 88 L40 100Z" fill="#1f2339"/><path d="M30 92 L40 84 L70 78 L74 84 L62 100 L34 100Z" fill="#b9c9e9"/><path d="M40 76 L66 74 L64 90 Q52 98 42 92Z" fill="#c48a6c"/><ellipse cx="25.5" cy="50" rx="2.5" ry="6" fill="#cc9074"/><ellipse cx="75" cy="50" rx="2.5" ry="6" fill="#cc9074"/><ellipse cx="49.5" cy="51" rx="24.5" ry="33.5" fill="#d69c7e"/><ellipse cx="49.5" cy="51" rx="24.5" ry="33.5" fill="url(#shade)"/><ellipse cx="50" cy="30" rx="16" ry="10" fill="#e0aa8c"/><path d="M23 42 Q20 14 46 8 Q70 6 77 26 Q79 36 76 46 Q72 28 62 22 Q48 18 36 24 Q28 30 26 44Z" fill="#2b2b29"/><ellipse cx="38" cy="46" rx="3.4" ry="1.5" fill="#3a2a26"/><ellipse cx="60" cy="46" rx="3.4" ry="1.5" fill="#3a2a26"/><path d="M32 41L44 40" stroke="#3a2a26" stroke-width="1.4" fill="none" stroke-linecap="round"/><path d="M54 40L66 41" stroke="#3a2a26" stroke-width="1.4" fill="none" stroke-linecap="round"/><path d="M40.5 65.5 Q48 67.32 55.5 65.5 Q48 72.78 40.5 65.5Z" fill="#f2e2dc" stroke="#b8645c" stroke-width="1.2" stroke-linejoin="round"/></g></g><circle cx="50" cy="50" r="47" fill="none" stroke="#b7b2b0" stroke-width="6"/></g></svg>
<h1 class="h"><span style="left:343.75px;top:44px;font-size:26.2px;letter-spacing:0px;color:#672589;-webkit-text-stroke:1.5px #672589;transform:translateY(0.42px) scaleX(1.1653)">BOARD</span> <span style="left:464.36px;top:44px;font-size:26.2px;letter-spacing:0px;color:#672589;-webkit-text-stroke:1.5px #672589;transform:translateY(0.42px) scaleX(1.1403)">OF</span> <span style="left:515.61px;top:44px;font-size:26.2px;letter-spacing:0px;color:#672589;-webkit-text-stroke:1.5px #672589;transform:translateY(0.42px) scaleX(1.1416)">DIRECTORS</span> </h1>
<h2 class="h"><span style="left:360.06px;top:290px;font-size:19.2px;letter-spacing:2.8px;color:#fff;-webkit-text-stroke:1.5px #fff;transform:translateY(0.05px) scaleX(1.1230)">STEERING</span> <span style="left:503.75px;top:290px;font-size:19.2px;letter-spacing:2.8px;color:#fff;-webkit-text-stroke:1.5px #fff;transform:translateY(0.05px) scaleX(1.1692)">COMMITTEE</span> </h2>
<h3 class="h"><span style="left:435.81px;top:401px;font-size:18.9px;letter-spacing:0px;color:#672589;-webkit-text-stroke:1.2px #672589;transform:translateY(0.5px) scaleX(1.1369)">COMMITTEES</span> <span style="left:585.83px;top:401px;font-size:18.9px;letter-spacing:0px;color:#672589;-webkit-text-stroke:1.2px #672589;transform:translateY(0.5px) scaleX(1.0720)">&amp;</span> <span style="left:418.21px;top:425px;font-size:18.9px;letter-spacing:0px;color:#672589;-webkit-text-stroke:1.2px #672589;transform:translateY(0.6px) scaleX(1.1294)">RESPONSIBILITIES</span> </h3>
<div class="t" style="left:404.76px;top:93px;font-size:12.5px;transform:scaleX(0.9725)">Joseph Merola</div>
<div class="t" style="left:415.3px;top:106px;font-size:9.9px;letter-spacing:0.11px">Co-President</div>
<div class="t" style="left:593.5px;top:93px;font-size:12.5px;transform:scaleX(0.9700)">Arthur Kavanaugh</div>
<div class="t" style="left:612.5px;top:106px;font-size:9.9px;letter-spacing:0.09px">Co-President</div>
<div class="t" style="left:210px;top:141px;font-size:12.5px;letter-spacing:-0.02px">April Armstrong</div>
<div class="t" style="left:209.75px;top:154px;font-size:9.9px;letter-spacing:0.3px">Past Co-President</div>
<div class="t" style="left:785px;top:140px;font-size:12.5px;letter-spacing:0.06px">Oliver FitzGerald</div>
<div class="t" style="left:791.75px;top:155px;font-size:9.9px;letter-spacing:0.02px">Past Co-President</div>
<div class="t" style="left:403.25px;top:159px;font-size:12.5px;letter-spacing:-0.09px">Laura Savage</div>
<div class="t" style="left:401px;top:173px;font-size:9.9px;letter-spacing:0.09px">Co-Vice President</div>
<div class="t" style="left:596.75px;top:159px;font-size:12.5px;letter-spacing:0.08px">Vinod Chandran</div>
<div class="t" style="left:598.5px;top:173px;font-size:9.9px;letter-spacing:0.12px">Co-Vice President</div>
<div class="t" style="left:265.56px;top:224px;font-size:12.5px;transform:scaleX(0.9378)">Phil Mease</div>
<div class="t" style="left:251.25px;top:237px;font-size:9.9px;letter-spacing:-0.04px">Treasurer/Secretary</div>
<div class="t" style="left:498.55px;top:221px;font-size:12.5px;transform:scaleX(0.9497)">Luis Puig</div>
<div class="t" style="left:483.75px;top:233px;font-size:9.9px;letter-spacing:0.18px">Member at Large</div>
<div class="t" style="left:511px;top:241px;font-size:9.9px;letter-spacing:0.17px">Derm</div>
<div class="t" style="left:733px;top:218px;font-size:12.5px;letter-spacing:0.05px">Laura Coates</div>
<div class="t" style="left:732.25px;top:230px;font-size:9.9px;letter-spacing:0.14px">Member at Large</div>
<div class="t" style="left:755.77px;top:239px;font-size:9.9px;transform:scaleX(0.9672)">Rheum</div>
<div class="t s" style="left:99px;top:305px;font-size:12.1px;letter-spacing:0.14px">Ade Adebajo*</div>
<div class="t s" style="left:107px;top:319px;font-size:12.1px;letter-spacing:-0.05px">Sibel Aydin</div>
<div class="t s" style="left:80.5px;top:333px;font-size:12.1px;letter-spacing:-0.08px">Kristina Callis Duffin*</div>
<div class="t s" style="left:60.75px;top:347px;font-size:12.1px;letter-spacing:0.03px">Maria-Antonietta D&#x27;Agostino</div>
<div class="t s" style="left:262.04px;top:305px;font-size:12.1px;transform:scaleX(0.9624)">Lihi Eder</div>
<div class="t s" style="left:239px;top:319px;font-size:12.1px;letter-spacing:0.13px">Dafna Gladman*</div>
<div class="t s" style="left:249px;top:333px;font-size:12.1px;letter-spacing:0.17px">Alice Gottlieb</div>
<div class="t s" style="left:237px;top:347px;font-size:12.1px;letter-spacing:-0.12px">Philip H. Helliwell*</div>
<div class="t s" style="left:404.56px;top:318px;font-size:12.1px;transform:scaleX(0.9397)">Brian Kirby</div>
<div class="t s" style="left:390.77px;top:332px;font-size:12.1px;transform:scaleX(0.9761)">Mitch Kishimoto</div>
<div class="t s" style="left:398.53px;top:346px;font-size:12.1px;transform:scaleX(0.9345)">Chris Lindsay</div>
<div class="t s" style="left:553.75px;top:318px;font-size:12.1px;transform:scaleX(0.9771)">Ajesh Maharaj</div>
<div class="t s" style="left:540.5px;top:332px;font-size:12.1px;letter-spacing:-0.12px">Dennis McGonagle</div>
<div class="t s" style="left:562.04px;top:346px;font-size:12.1px;transform:scaleX(0.9574)">Peter Nash</div>
<div class="t s" style="left:708.03px;top:305px;font-size:12.1px;transform:scaleX(0.9680)">Lourdes Perez-Chada</div>
<div class="t s" style="left:720.81px;top:319px;font-size:12.1px;transform:scaleX(0.9413)">Denis Poddubnyy</div>
<div class="t s" style="left:732.5px;top:333px;font-size:12.1px;letter-spacing:-0.02px">Fabian Proft</div>
<div class="t s" style="left:697px;top:347px;font-size:12.1px;transform:scaleX(0.9517)">Andre Ribeiro (Y-GRAPPA)</div>
<div class="t s" style="left:867.78px;top:319px;font-size:12.1px;transform:scaleX(0.9707)">Enrique Soriano</div>
<div class="t s" style="left:870.25px;top:333px;font-size:12.1px;letter-spacing:-0.08px">Vibeke Strand*</div>
<div class="t s" style="left:876px;top:347px;font-size:12.1px;transform:scaleX(0.9716)">William Tillett</div>
<div class="t s" style="left:859px;top:294px;font-size:10.2px;letter-spacing:0.17px">*Emeritus Members</div>
<div class="t" style="left:86px;top:393px;font-size:13px;letter-spacing:0.21px">Finance</div>
<div class="t" style="left:84.25px;top:406px;font-size:10.3px;letter-spacing:0.06px">Phil Mease</div>
<div class="t" style="left:69.75px;top:415px;font-size:10.3px;letter-spacing:0.25px">Rheum Co-Chair</div>
<div class="t" style="left:253px;top:393px;font-size:13px;letter-spacing:0.21px">Finance</div>
<div class="t" style="left:229.75px;top:406px;font-size:10.3px;letter-spacing:0.15px">Kristina Callis Duffin</div>
<div class="t" style="left:240px;top:415px;font-size:10.3px;letter-spacing:0.35px">Derm Co-Chair</div>
<div class="t" style="left:754.5px;top:393px;font-size:13px;letter-spacing:0.17px">Membership</div>
<div class="t" style="left:752.25px;top:406px;font-size:10.3px;letter-spacing:0.33px">Vinod Chandran</div>
<div class="t" style="left:750.75px;top:415px;font-size:10.3px;letter-spacing:0.25px">Rheum Co-Chair</div>
<div class="t" style="left:921px;top:392px;font-size:13px;letter-spacing:0.17px">Membership</div>
<div class="t" style="left:924.75px;top:405px;font-size:10.3px;letter-spacing:0.14px">Laura Savage</div>
<div class="t" style="left:920.75px;top:414px;font-size:10.3px;letter-spacing:0.35px">Derm Co-Chair</div>
<div class="t" style="left:394.25px;top:467px;font-size:13px;letter-spacing:0.38px">Education</div>
<div class="t" style="left:395.75px;top:480px;font-size:10.3px;letter-spacing:-0.02px">Elaine Husni</div>
<div class="t" style="left:384.5px;top:489px;font-size:10.3px;letter-spacing:0.19px">Rheum Co-Chair</div>
<div class="t" style="left:394.25px;top:524px;font-size:13px;letter-spacing:0.38px">Education</div>
<div class="t" style="left:403.77px;top:538px;font-size:10.3px;transform:scaleX(0.9756)">Luis Puig</div>
<div class="t" style="left:387.75px;top:547px;font-size:10.3px;letter-spacing:0.35px">Derm Co-Chair</div>
<div class="t" style="left:394.25px;top:577px;font-size:13px;letter-spacing:0.38px">Education</div>
<div class="t" style="left:398.5px;top:590px;font-size:10.3px;letter-spacing:-0.06px">Katy Leung</div>
<div class="t" style="left:384.5px;top:599px;font-size:10.3px;letter-spacing:0.19px">Rheum Co-Chair</div>
<div class="t" style="left:656.5px;top:522px;font-size:13px;letter-spacing:0.04px">Research</div>
<div class="t" style="left:653.75px;top:534px;font-size:10.3px;letter-spacing:0.18px">Kurt de Vlam</div>
<div class="t" style="left:644px;top:545px;font-size:10.3px;letter-spacing:0.23px">Rheum Co-Chair</div>
<div class="t" style="left:658.5px;top:580px;font-size:13px;letter-spacing:0.04px">Research</div>
<div class="t" style="left:660.5px;top:593px;font-size:10.3px;letter-spacing:-0.07px">Wilson Liao</div>
<div class="t" style="left:649.75px;top:602px;font-size:10.3px;letter-spacing:0.35px">Derm Co-Chair</div>
<div class="t" style="left:34.5px;top:515px;font-size:10.3px;letter-spacing:0.07px">Remuneration</div>
<div class="t" style="left:142.75px;top:515px;font-size:10.3px;letter-spacing:0.26px">Finance/Development</div>
<div class="t" style="left:51px;top:568px;font-size:10.3px;letter-spacing:0.3px">Grants</div>
<div class="t" style="left:171px;top:562px;font-size:10.3px;letter-spacing:0.47px">Corporate</div>
<div class="t" style="left:160.75px;top:574px;font-size:10.3px;letter-spacing:0.02px">Partner Liaison</div>
<div class="t" style="left:280.5px;top:661px;font-size:10.3px;letter-spacing:0.11px">Publications</div>
<div class="t" style="left:262.75px;top:673px;font-size:10.3px;letter-spacing:0.11px">*Textbooks &amp; Slides</div>
<div class="t" style="left:289.5px;top:705px;font-size:10.3px;letter-spacing:0.29px">Meetings</div>
<div class="t" style="left:415.75px;top:665px;font-size:10.3px;letter-spacing:0.09px">Treatment</div>
<div class="t" style="left:395.75px;top:673px;font-size:10.3px;letter-spacing:0.09px">Recommendations</div>
<div class="t" style="left:580.02px;top:658px;font-size:10.3px;transform:scaleX(0.9524)">CRN</div>
<div class="t" style="left:682.25px;top:657px;font-size:10.3px;letter-spacing:0.32px">Grant Awards</div>
<div class="t" style="left:567.03px;top:701px;font-size:10.3px;transform:scaleX(0.9458)">OMERACT</div>
<div class="t" style="left:670px;top:702px;font-size:10.3px;letter-spacing:-0.06px">Trainee Symposium</div>
<div class="t" style="left:571.5px;top:731px;font-size:10.3px;letter-spacing:0.33px">Imaging</div>
<div class="t" style="left:548.5px;top:744px;font-size:10.3px;letter-spacing:0.06px">*MRI &amp; Ultrasound</div>
<div class="t" style="left:809.26px;top:511px;font-size:10.3px;transform:scaleX(0.9436)">YGRAPPA</div>
<div class="t" style="left:925.5px;top:505px;font-size:10.3px;letter-spacing:0.19px">Membership</div>
<div class="t" style="left:924.75px;top:518px;font-size:10.3px;letter-spacing:0.17px">Engagement</div>
<div class="t" style="left:822.83px;top:551px;font-size:10.3px;transform:scaleX(0.9000)">PRP</div>
<div class="t" style="left:929.27px;top:550px;font-size:10.3px;transform:scaleX(0.9522)">GRAPPA EU</div>
<div class="t" style="left:804px;top:589px;font-size:10.3px;letter-spacing:0.19px">Governance</div>
</div>
</body>
</html>
